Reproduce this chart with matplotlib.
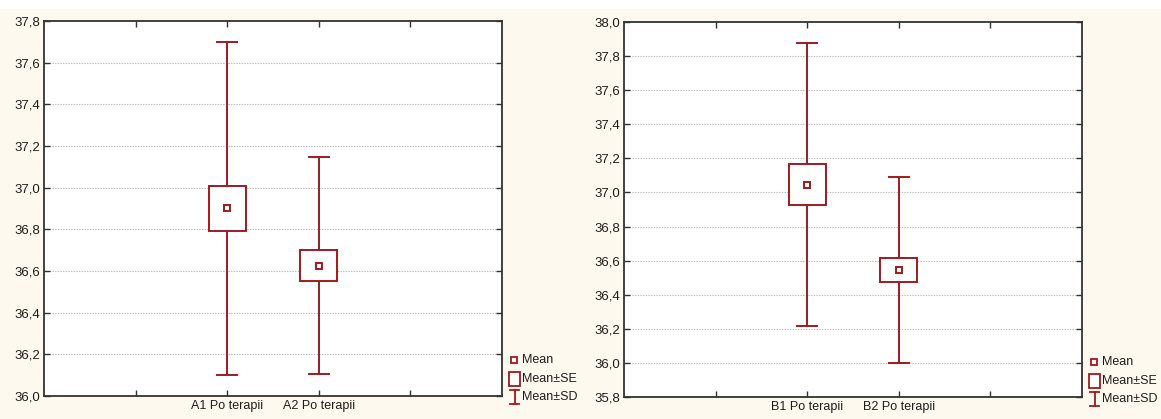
import matplotlib
matplotlib.use("Agg")
import matplotlib.pyplot as plt
from matplotlib.patches import Rectangle
from matplotlib.lines import Line2D

plt.rcParams['font.family'] = ['Liberation Sans', 'DejaVu Sans']

# ---- data ----
left_labels = ["A1 Po terapii", "A2 Po terapii"]
left_mean = [36.90, 36.625]
left_se = [0.11, 0.075]
left_sd = [0.80, 0.52]

right_labels = ["B1 Po terapii", "B2 Po terapii"]
right_mean = [37.045, 36.545]
right_se = [0.12, 0.073]
right_sd = [0.83, 0.545]

left_yticks = [36.0, 36.2, 36.4, 36.6, 36.8, 37.0, 37.2, 37.4, 37.6, 37.8]
right_yticks = [35.8, 36.0, 36.2, 36.4, 36.6, 36.8, 37.0, 37.2, 37.4, 37.6, 37.8, 38.0]
legend_labels = ["Mean", "Mean\u00b1SE", "Mean\u00b1SD"]

RED = "#9b1b1f"
BG = "#fef9ee"
TXT = "#1e1e1e"
W, H = 1161, 419

fig = plt.figure(figsize=(W / 100, H / 100), dpi=100, facecolor="white")
# beige background panel below the white top strip
fig.patches.append(Rectangle((0, 0), 1, 1 - 9 / H, transform=fig.transFigure,
                             facecolor=BG, edgecolor="none", zorder=-10))


def px_axes(x0, y0, x1, y1):
    return fig.add_axes([x0 / W, 1 - y1 / H, (x1 - x0) / W, (y1 - y0) / H])


def draw_panel(ax, labels, means, ses, sds, yticks):
    ax.set_facecolor("white")
    xs = [2, 3]
    for x, m, se, sd in zip(xs, means, ses, sds):
        # SD whiskers
        ax.plot([x, x], [m + se, m + sd], color=RED, lw=1.4, zorder=3, solid_capstyle="butt")
        ax.plot([x, x], [m - sd, m - se], color=RED, lw=1.4, zorder=3, solid_capstyle="butt")
        ax.plot([x - 0.11, x + 0.11], [m + sd, m + sd], color=RED, lw=1.4, zorder=3)
        ax.plot([x - 0.11, x + 0.11], [m - sd, m - sd], color=RED, lw=1.4, zorder=3)
        # SE box
        ax.add_patch(Rectangle((x - 0.2, m - se), 0.4, 2 * se, facecolor="white",
                               edgecolor=RED, lw=1.4, zorder=4))
        # mean
        ax.plot([x], [m], marker="s", ms=4.5, mfc="white", mec=RED, mew=1.4, zorder=5)
    ax.set_xlim(0.0, 5.0)
    ax.set_ylim(yticks[0], yticks[-1])
    ax.set_yticks(yticks)
    ax.set_yticklabels([f"{t:.1f}".replace(".", ",") for t in yticks], fontsize=9.5, color=TXT)
    ax.set_xticks([1, 2, 3, 4])
    ax.set_xticklabels(["", labels[0], labels[1], ""], fontsize=9, color=TXT)
    ax.tick_params(direction="in", length=4, width=1, top=True, right=True, pad=3, color="#333333")
    for t in yticks[1:-1]:
        ax.axhline(t, color="#b8b8b8", lw=0.8, ls=(0, (1.2, 1.2)), zorder=1)
    for s in ax.spines.values():
        s.set_linewidth(1.3)
        s.set_color("#333333")


ax1 = px_axes(44, 21, 502, 396)
draw_panel(ax1, left_labels, left_mean, left_se, left_sd, left_yticks)

ax2 = px_axes(624, 22, 1082, 397)
draw_panel(ax2, right_labels, right_mean, right_se, right_sd, right_yticks)


def draw_legend(x0, y0):
    # x0: left of symbol column, y0: center of first row (pixels)
    def fx(x):
        return x / W

    def fy(y):
        return 1 - y / H
    # Mean marker
    fig.add_artist(Line2D([fx(x0 + 5)], [fy(y0)], marker="s", ms=4, mfc="white",
                          mec=RED, mew=1.3, transform=fig.transFigure))
    # SE box
    fig.add_artist(Rectangle((fx(x0), fy(y0 + 26)), 11 / W, 14 / H, transform=fig.transFigure,
                             facecolor="white", edgecolor=RED, lw=1.3))
    # SD I-shape
    fig.add_artist(Line2D([fx(x0 + 5.5)] * 2, [fy(y0 + 30), fy(y0 + 44)], color=RED, lw=1.3,
                          transform=fig.transFigure))
    fig.add_artist(Line2D([fx(x0 + 1), fx(x0 + 10)], [fy(y0 + 30)] * 2, color=RED, lw=1.3,
                          transform=fig.transFigure))
    fig.add_artist(Line2D([fx(x0 + 1), fx(x0 + 10)], [fy(y0 + 44)] * 2, color=RED, lw=1.3,
                          transform=fig.transFigure))
    for i, lab in enumerate(legend_labels):
        fig.text(fx(x0 + 13), fy(y0 + i * 18.5), lab, fontsize=9, color=TXT,
                 va="center", ha="left")


draw_legend(509, 360)
draw_legend(1089, 362)

fig.savefig("out.png", dpi=100, facecolor=fig.get_facecolor())
